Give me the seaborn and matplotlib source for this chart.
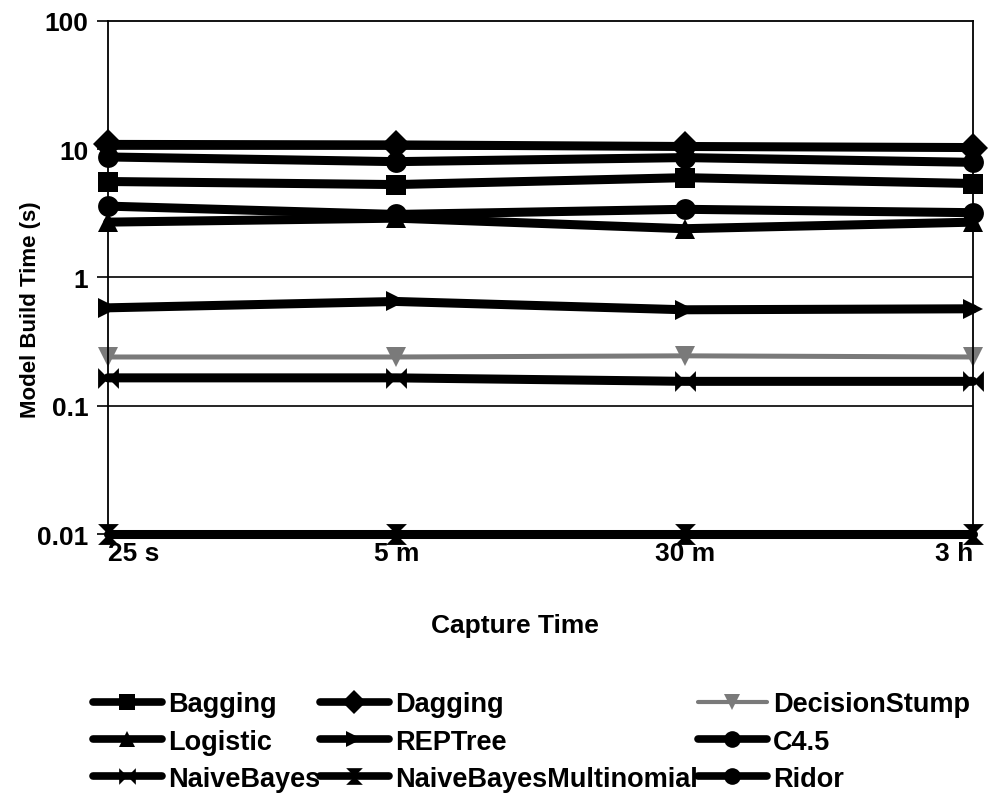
import matplotlib
matplotlib.use("Agg")
import matplotlib.pyplot as plt
from matplotlib.path import Path
import pandas as pd
import seaborn as sns

# Capture windows on the x axis
capture_times = ["25 s", "5 m", "30 m", "3 h"]

# Model build time (seconds) per classifier
algorithms = ["Bagging", "Dagging", "DecisionStump", "Logistic", "REPTree",
              "C4.5", "NaiveBayes", "NaiveBayesMultinomial", "Ridor"]
bagging = [5.6, 5.3, 6.0, 5.4]
dagging = [10.9, 10.8, 10.5, 10.3]
decision_stump = [0.24, 0.24, 0.245, 0.24]
logistic = [2.7, 2.9, 2.4, 2.7]
reptree = [0.58, 0.65, 0.56, 0.57]
c45 = [3.6, 3.1, 3.4, 3.2]
naive_bayes = [0.165, 0.165, 0.155, 0.155]
naive_bayes_multinomial = [0.01, 0.01, 0.01, 0.01]
ridor = [8.7, 8.0, 8.6, 7.9]

y_ticks = [0.01, 0.1, 1, 10, 100]
y_tick_labels = ["0.01", "0.1", "1", "10", "100"]

series = {
    "Bagging": bagging, "Dagging": dagging, "DecisionStump": decision_stump,
    "Logistic": logistic, "REPTree": reptree, "C4.5": c45,
    "NaiveBayes": naive_bayes, "NaiveBayesMultinomial": naive_bayes_multinomial,
    "Ridor": ridor,
}
df = pd.DataFrame(
    [(alg, t, v) for alg in algorithms for t, v in zip(capture_times, series[alg])],
    columns=["Algorithm", "Capture Time", "Build Time"],
)

# custom marker shapes
MV, LN, CL = Path.MOVETO, Path.LINETO, Path.CLOSEPOLY
bowtie = Path([(-1, -1), (0, 0), (-1, 1), (-1, -1), (1, -1), (0, 0), (1, 1), (1, -1)],
              [MV, LN, LN, CL, MV, LN, LN, CL])
hourglass = Path([(-1, 1), (0, 0), (1, 1), (-1, 1), (-1, -1), (0, 0), (1, -1), (-1, -1)],
                 [MV, LN, LN, CL, MV, LN, LN, CL])

markers = {"Bagging": "s", "Dagging": "D", "DecisionStump": "v", "Logistic": "^",
           "REPTree": ">", "C4.5": "o", "NaiveBayes": bowtie,
           "NaiveBayesMultinomial": hourglass, "Ridor": "o"}
palette = {a: "black" for a in algorithms}
palette["DecisionStump"] = "#7a7a7a"
widths = {a: 6.5 for a in algorithms}
widths["DecisionStump"] = 3.6

sns.set_style("white")
plt.rcParams["font.family"] = ["Liberation Sans", "DejaVu Sans"]
plt.rcParams["font.weight"] = "bold"
for key in ["text.color", "axes.labelcolor", "xtick.color", "ytick.color"]:
    plt.rcParams[key] = "black"

fig = plt.figure(figsize=(9.98, 8.03), dpi=100)
ax = fig.add_axes([0.108, 0.3337, 0.867, 0.639])

sns.lineplot(data=df, x="Capture Time", y="Build Time", hue="Algorithm",
             style="Algorithm", size="Algorithm", hue_order=algorithms,
             style_order=algorithms, size_order=algorithms, palette=palette,
             markers=markers, dashes=False, sizes=widths, sort=False,
             markersize=15, markeredgewidth=0, clip_on=False, ax=ax, legend="full")

ax.set_yscale("log")
ax.set_ylim(0.01, 100)
ax.set_xlim(0, 3)
ax.set_yticks(y_ticks)
ax.set_yticklabels(y_tick_labels, fontsize=19, fontweight="bold")
ax.minorticks_off()
ax.set_xticks(range(len(capture_times)))
ax.set_xticklabels(capture_times, fontsize=19, fontweight="bold")
xl = ax.get_xticklabels()
xl[0].set_ha("left")
xl[-1].set_ha("right")
ax.tick_params(axis="y", which="major", direction="out", length=8, width=1.2,
               color="black", left=True, pad=6)
ax.tick_params(axis="x", length=0, pad=5)
for y in [0.1, 1, 10]:
    ax.axhline(y, color="black", lw=1.2, zorder=0)
for sp in ax.spines.values():
    sp.set_visible(True)
    sp.set_color("black")
    sp.set_linewidth(1.3)

ax.set_xlabel("Capture Time", fontsize=19, fontweight="bold")
ax.xaxis.set_label_coords(0.47, -0.154)
ax.set_ylabel("Model Build Time (s)", fontsize=16, fontweight="bold")
ax.yaxis.set_label_coords(-0.077, 0.44)

handles, labels = ax.get_legend_handles_labels()
lookup = {l: h for h, l in zip(handles, labels)}
ax.get_legend().remove()
order = ["Bagging", "Logistic", "NaiveBayes",
         "Dagging", "REPTree", "NaiveBayesMultinomial",
         "DecisionStump", "C4.5", "Ridor"]
leg = fig.legend([lookup[o] for o in order], order, ncol=3, loc="upper left",
                 bbox_to_anchor=(0.093, 0.138), frameon=False,
                 prop={"size": 19.5, "weight": "bold"}, handlelength=2.55,
                 handletextpad=0.22, columnspacing=0.0, labelspacing=0.42,
                 borderpad=0, borderaxespad=0)
for h in leg.legend_handles:
    h.set_markersize(12)
    h.set_linewidth(5.5 if h.get_color() == "black" else 3.0)

fig.savefig("out.png", dpi=100)
